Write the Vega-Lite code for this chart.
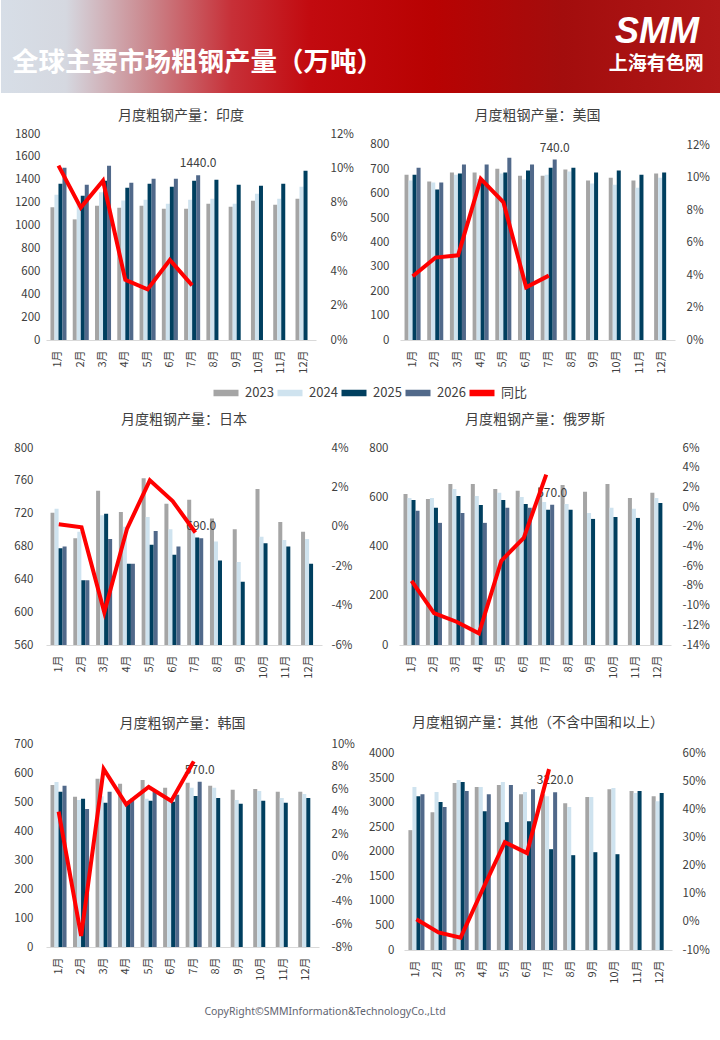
{
  "$schema": "https://vega.github.io/schema/vega-lite/v6.json",
  "background": "white",
  "padding": 0,
  "autosize": {"type": "pad"},
  "title": {
    "text": "CopyRight©SMMInformation&TechnologyCo.,Ltd",
    "orient": "bottom", "anchor": "middle", "dx": -36, "offset": 17,
    "fontSize": 10.5, "font": "Noto Sans", "fontWeight": "normal", "color": "#5f6470"
  },
  "datasets": {
    "india": [
      {"m":"1月","yr":"2023","v":1160},{"m":"1月","yr":"2024","v":1270},{"m":"1月","yr":"2025","v":1365},{"m":"1月","yr":"2026","v":1505},
      {"m":"2月","yr":"2023","v":1054},{"m":"2月","yr":"2024","v":1190},{"m":"2月","yr":"2025","v":1261},{"m":"2月","yr":"2026","v":1357},
      {"m":"3月","yr":"2023","v":1173},{"m":"3月","yr":"2024","v":1290},{"m":"3月","yr":"2025","v":1392},{"m":"3月","yr":"2026","v":1523},
      {"m":"4月","yr":"2023","v":1156},{"m":"4月","yr":"2024","v":1220},{"m":"4月","yr":"2025","v":1330},{"m":"4月","yr":"2026","v":1374},
      {"m":"5月","yr":"2023","v":1173},{"m":"5月","yr":"2024","v":1226},{"m":"5月","yr":"2025","v":1365},{"m":"5月","yr":"2026","v":1409},
      {"m":"6月","yr":"2023","v":1147},{"m":"6月","yr":"2024","v":1191},{"m":"6月","yr":"2025","v":1339},{"m":"6月","yr":"2026","v":1409},
      {"m":"7月","yr":"2023","v":1147},{"m":"7月","yr":"2024","v":1226},{"m":"7月","yr":"2025","v":1392},{"m":"7月","yr":"2026","v":1440},
      {"m":"8月","yr":"2023","v":1191},{"m":"8月","yr":"2024","v":1234},{"m":"8月","yr":"2025","v":1400},
      {"m":"9月","yr":"2023","v":1165},{"m":"9月","yr":"2024","v":1191},{"m":"9月","yr":"2025","v":1357},
      {"m":"10月","yr":"2023","v":1217},{"m":"10月","yr":"2024","v":1278},{"m":"10月","yr":"2025","v":1348},
      {"m":"11月","yr":"2023","v":1182},{"m":"11月","yr":"2024","v":1234},{"m":"11月","yr":"2025","v":1365},
      {"m":"12月","yr":"2023","v":1234},{"m":"12月","yr":"2024","v":1339},{"m":"12月","yr":"2025","v":1479},
      {"m":"1月","yoy":0.1016},{"m":"2月","yoy":0.0771},{"m":"3月","yoy":0.0928},{"m":"4月","yoy":0.035},
      {"m":"5月","yoy":0.0295},{"m":"6月","yoy":0.0466},{"m":"7月","yoy":0.0318}
    ],
    "us": [
      {"m":"1月","yr":"2023","v":678},{"m":"1月","yr":"2024","v":654},{"m":"1月","yr":"2025","v":678},{"m":"1月","yr":"2026","v":707},
      {"m":"2月","yr":"2023","v":650},{"m":"2月","yr":"2024","v":646},{"m":"2月","yr":"2025","v":617},{"m":"2月","yr":"2026","v":646},
      {"m":"3月","yr":"2023","v":687},{"m":"3月","yr":"2024","v":678},{"m":"3月","yr":"2025","v":683},{"m":"3月","yr":"2026","v":720},
      {"m":"4月","yr":"2023","v":687},{"m":"4月","yr":"2024","v":660},{"m":"4月","yr":"2025","v":655},{"m":"4月","yr":"2026","v":720},
      {"m":"5月","yr":"2023","v":703},{"m":"5月","yr":"2024","v":683},{"m":"5月","yr":"2025","v":687},{"m":"5月","yr":"2026","v":748},
      {"m":"6月","yr":"2023","v":674},{"m":"6月","yr":"2024","v":658},{"m":"6月","yr":"2025","v":695},{"m":"6月","yr":"2026","v":720},
      {"m":"7月","yr":"2023","v":674},{"m":"7月","yr":"2024","v":678},{"m":"7月","yr":"2025","v":707},{"m":"7月","yr":"2026","v":740},
      {"m":"8月","yr":"2023","v":699},{"m":"8月","yr":"2024","v":691},{"m":"8月","yr":"2025","v":707},
      {"m":"9月","yr":"2023","v":654},{"m":"9月","yr":"2024","v":642},{"m":"9月","yr":"2025","v":687},
      {"m":"10月","yr":"2023","v":666},{"m":"10月","yr":"2024","v":637},{"m":"10月","yr":"2025","v":695},
      {"m":"11月","yr":"2023","v":654},{"m":"11月","yr":"2024","v":625},{"m":"11月","yr":"2025","v":678},
      {"m":"12月","yr":"2023","v":683},{"m":"12月","yr":"2024","v":666},{"m":"12月","yr":"2025","v":687},
      {"m":"1月","yoy":0.0392},{"m":"2月","yoy":0.0507},{"m":"3月","yoy":0.0521},{"m":"4月","yoy":0.0991},
      {"m":"5月","yoy":0.0847},{"m":"6月","yoy":0.0324},{"m":"7月","yoy":0.0396}
    ],
    "japan": [
      {"m":"1月","yr":"2023","v":721},{"m":"1月","yr":"2024","v":726},{"m":"1月","yr":"2025","v":678},{"m":"1月","yr":"2026","v":680},
      {"m":"2月","yr":"2023","v":690},{"m":"2月","yr":"2024","v":698},{"m":"2月","yr":"2025","v":639},{"m":"2月","yr":"2026","v":639},
      {"m":"3月","yr":"2023","v":748},{"m":"3月","yr":"2024","v":718},{"m":"3月","yr":"2025","v":720},{"m":"3月","yr":"2026","v":689},
      {"m":"4月","yr":"2023","v":722},{"m":"4月","yr":"2024","v":704},{"m":"4月","yr":"2025","v":659},{"m":"4月","yr":"2026","v":659},
      {"m":"5月","yr":"2023","v":763},{"m":"5月","yr":"2024","v":716},{"m":"5月","yr":"2025","v":682},{"m":"5月","yr":"2026","v":699},
      {"m":"6月","yr":"2023","v":732},{"m":"6月","yr":"2024","v":701},{"m":"6月","yr":"2025","v":670},{"m":"6月","yr":"2026","v":680},
      {"m":"7月","yr":"2023","v":737},{"m":"7月","yr":"2024","v":700},{"m":"7月","yr":"2025","v":691},{"m":"7月","yr":"2026","v":690},
      {"m":"8月","yr":"2023","v":714},{"m":"8月","yr":"2024","v":686},{"m":"8月","yr":"2025","v":663},
      {"m":"9月","yr":"2023","v":701},{"m":"9月","yr":"2024","v":661},{"m":"9月","yr":"2025","v":637},
      {"m":"10月","yr":"2023","v":750},{"m":"10月","yr":"2024","v":692},{"m":"10月","yr":"2025","v":684},
      {"m":"11月","yr":"2023","v":710},{"m":"11月","yr":"2024","v":688},{"m":"11月","yr":"2025","v":680},
      {"m":"12月","yr":"2023","v":698},{"m":"12月","yr":"2024","v":689},{"m":"12月","yr":"2025","v":659},
      {"m":"1月","yoy":0.0013},{"m":"2月","yoy":-0.0002},{"m":"3月","yoy":-0.0434},{"m":"4月","yoy":-0.0009},
      {"m":"5月","yoy":0.0236},{"m":"6月","yoy":0.0131},{"m":"7月","yoy":-0.0029}
    ],
    "russia": [
      {"m":"1月","yr":"2023","v":613},{"m":"1月","yr":"2024","v":597},{"m":"1月","yr":"2025","v":589},{"m":"1月","yr":"2026","v":545},
      {"m":"2月","yr":"2023","v":593},{"m":"2月","yr":"2024","v":597},{"m":"2月","yr":"2025","v":557},{"m":"2月","yr":"2026","v":496},
      {"m":"3月","yr":"2023","v":654},{"m":"3月","yr":"2024","v":634},{"m":"3月","yr":"2025","v":605},{"m":"3月","yr":"2026","v":536},
      {"m":"4月","yr":"2023","v":654},{"m":"4月","yr":"2024","v":605},{"m":"4月","yr":"2025","v":569},{"m":"4月","yr":"2026","v":496},
      {"m":"5月","yr":"2023","v":634},{"m":"5月","yr":"2024","v":618},{"m":"5月","yr":"2025","v":589},{"m":"5月","yr":"2026","v":557},
      {"m":"6月","yr":"2023","v":626},{"m":"6月","yr":"2024","v":601},{"m":"6月","yr":"2025","v":573},{"m":"6月","yr":"2026","v":557},
      {"m":"7月","yr":"2023","v":642},{"m":"7月","yr":"2024","v":581},{"m":"7月","yr":"2025","v":549},{"m":"7月","yr":"2026","v":570},
      {"m":"8月","yr":"2023","v":650},{"m":"8月","yr":"2024","v":573},{"m":"8月","yr":"2025","v":549},
      {"m":"9月","yr":"2023","v":622},{"m":"9月","yr":"2024","v":536},{"m":"9月","yr":"2025","v":512},
      {"m":"10月","yr":"2023","v":654},{"m":"10月","yr":"2024","v":557},{"m":"10月","yr":"2025","v":520},
      {"m":"11月","yr":"2023","v":597},{"m":"11月","yr":"2024","v":553},{"m":"11月","yr":"2025","v":516},
      {"m":"12月","yr":"2023","v":618},{"m":"12月","yr":"2024","v":597},{"m":"12月","yr":"2025","v":577},
      {"m":"1月","yoy":-0.0748},{"m":"2月","yoy":-0.1076},{"m":"3月","yoy":-0.1164},{"m":"4月","yoy":-0.1282},
      {"m":"5月","yoy":-0.0545},{"m":"6月","yoy":-0.0312},{"m":"7月","yoy":0.0329}
    ],
    "korea": [
      {"m":"1月","yr":"2023","v":559},{"m":"1月","yr":"2024","v":569},{"m":"1月","yr":"2025","v":535},{"m":"1月","yr":"2026","v":556},
      {"m":"2月","yr":"2023","v":518},{"m":"2月","yr":"2024","v":507},{"m":"2月","yr":"2025","v":511},{"m":"2月","yr":"2026","v":476},
      {"m":"3月","yr":"2023","v":580},{"m":"3月","yr":"2024","v":520},{"m":"3月","yr":"2025","v":497},{"m":"3月","yr":"2026","v":535},
      {"m":"4月","yr":"2023","v":563},{"m":"4月","yr":"2024","v":500},{"m":"4月","yr":"2025","v":494},{"m":"4月","yr":"2026","v":511},
      {"m":"5月","yr":"2023","v":576},{"m":"5月","yr":"2024","v":511},{"m":"5月","yr":"2025","v":504},{"m":"5月","yr":"2026","v":535},
      {"m":"6月","yr":"2023","v":549},{"m":"6月","yr":"2024","v":510},{"m":"6月","yr":"2025","v":501},{"m":"6月","yr":"2026","v":525},
      {"m":"7月","yr":"2023","v":566},{"m":"7月","yr":"2024","v":549},{"m":"7月","yr":"2025","v":521},{"m":"7月","yr":"2026","v":570},
      {"m":"8月","yr":"2023","v":556},{"m":"8月","yr":"2024","v":549},{"m":"8月","yr":"2025","v":514},
      {"m":"9月","yr":"2023","v":542},{"m":"9月","yr":"2024","v":507},{"m":"9月","yr":"2025","v":494},
      {"m":"10月","yr":"2023","v":545},{"m":"10月","yr":"2024","v":538},{"m":"10月","yr":"2025","v":504},
      {"m":"11月","yr":"2023","v":535},{"m":"11月","yr":"2024","v":514},{"m":"11月","yr":"2025","v":497},
      {"m":"12月","yr":"2023","v":535},{"m":"12月","yr":"2024","v":528},{"m":"12月","yr":"2025","v":514},
      {"m":"1月","yoy":0.04},{"m":"2月","yoy":-0.0702},{"m":"3月","yoy":0.0778},{"m":"4月","yoy":0.0465},
      {"m":"5月","yoy":0.0619},{"m":"6月","yoy":0.0495},{"m":"7月","yoy":0.0846}
    ],
    "others": [
      {"m":"1月","yr":"2023","v":2446},{"m":"1月","yr":"2024","v":3324},{"m":"1月","yr":"2025","v":3140},{"m":"1月","yr":"2026","v":3181},
      {"m":"2月","yr":"2023","v":2813},{"m":"2月","yr":"2024","v":3222},{"m":"2月","yr":"2025","v":3018},{"m":"2月","yr":"2026","v":2916},
      {"m":"3月","yr":"2023","v":3406},{"m":"3月","yr":"2024","v":3467},{"m":"3月","yr":"2025","v":3426},{"m":"3月","yr":"2026","v":3243},
      {"m":"4月","yr":"2023","v":3324},{"m":"4月","yr":"2024","v":3324},{"m":"4月","yr":"2025","v":2834},{"m":"4月","yr":"2026","v":3181},
      {"m":"5月","yr":"2023","v":3365},{"m":"5月","yr":"2024","v":3426},{"m":"5月","yr":"2025","v":2609},{"m":"5月","yr":"2026","v":3365},
      {"m":"6月","yr":"2023","v":3181},{"m":"6月","yr":"2024","v":3222},{"m":"6月","yr":"2025","v":2629},{"m":"6月","yr":"2026","v":3283},
      {"m":"7月","yr":"2023","v":3180},{"m":"7月","yr":"2024","v":3140},{"m":"7月","yr":"2025","v":2057},{"m":"7月","yr":"2026","v":3220},
      {"m":"8月","yr":"2023","v":2997},{"m":"8月","yr":"2024","v":2916},{"m":"8月","yr":"2025","v":1935},
      {"m":"9月","yr":"2023","v":3120},{"m":"9月","yr":"2024","v":3120},{"m":"9月","yr":"2025","v":1996},
      {"m":"10月","yr":"2023","v":3283},{"m":"10月","yr":"2024","v":3304},{"m":"10月","yr":"2025","v":1955},
      {"m":"11月","yr":"2023","v":3243},{"m":"11月","yr":"2024","v":3202},{"m":"11月","yr":"2025","v":3243},
      {"m":"12月","yr":"2023","v":3140},{"m":"12月","yr":"2024","v":3038},{"m":"12月","yr":"2025","v":3202},
      {"m":"1月","yoy":0.0095},{"m":"2月","yoy":-0.037},{"m":"3月","yoy":-0.056},{"m":"4月","yoy":0.117},
      {"m":"5月","yoy":0.285},{"m":"6月","yoy":0.246},{"m":"7月","yoy":0.546}
    ]
  },
  "spacing": 16,
  "resolve": {"scale": {"color": "independent"}, "legend": {"color": "independent"}},
  "vconcat": [
    {
      "width": 675,
      "height": 93,
      "data": {"values": [{"k": "banner"}]},
      "layer": [
        {
          "mark": {
            "type": "rect",
            "color": {
              "gradient": "linear", "x1": 0, "x2": 1, "y1": 0, "y2": 0,
              "stops": [
                {"offset": 0, "color": "#d7dee7"},
                {"offset": 0.09, "color": "#d5d8e0"},
                {"offset": 0.2, "color": "#cb8a90"},
                {"offset": 0.32, "color": "#c73038"},
                {"offset": 0.43, "color": "#c20a0f"},
                {"offset": 0.6, "color": "#b80202"},
                {"offset": 0.78, "color": "#a30d0d"},
                {"offset": 1, "color": "#b01818"}
              ]
            }
          },
          "encoding": {
            "x": {"datum": -0.0667, "type": "quantitative", "scale": {"domain": [0, 1], "nice": false, "zero": false}, "axis": null},
            "x2": {"datum": 1}
          }
        },
        {
          "mark": {"type": "text", "text": "全球主要市场粗钢产量（万吨）", "align": "left", "baseline": "middle",
                   "fontSize": 26.5, "fontWeight": "bold", "color": "white"},
          "encoding": {
            "x": {"datum": -0.0504, "type": "quantitative"},
            "y": {"datum": 0.32, "type": "quantitative", "scale": {"domain": [0, 1], "nice": false}, "axis": null}
          }
        },
        {
          "mark": {"type": "text", "text": "SMM", "align": "center", "baseline": "middle",
                   "font": "Liberation Sans", "fontSize": 36, "fontWeight": "bold", "fontStyle": "italic", "color": "white"},
          "encoding": {
            "x": {"datum": 0.905, "type": "quantitative"},
            "y": {"datum": 0.66, "type": "quantitative"}
          }
        },
        {
          "mark": {"type": "text", "text": "上海有色网", "align": "center", "baseline": "middle",
                   "fontSize": 19, "fontWeight": "bold", "color": "white"},
          "encoding": {
            "x": {"datum": 0.904, "type": "quantitative"},
            "y": {"datum": 0.31, "type": "quantitative"}
          }
        }
      ]
    },
    {
      "spacing": 0,
      "resolve": {"scale": {"color": "independent"}, "legend": {"color": "independent"}},
      "vconcat": [
        {
          "spacing": 0,
          "hconcat": [
            {
              "width": 270, "height": 206,
              "title": {"text": "月度粗钢产量：印度", "offset": 5},
              "data": {"name": "india"},
              "encoding": {
                "x": {"field": "m", "type": "nominal", "title": null,
                      "scale": {"domain": ["1月","2月","3月","4月","5月","6月","7月","8月","9月","10月","11月","12月"], "paddingInner": 0.28, "paddingOuter": 0.2},
                      "axis": {"labelAngle": -90, "domain": true, "domainColor": "#D9D9D9", "labelPadding": 10, "labelFontSize": 11, "labelOverlap": false, "minExtent": 37, "maxExtent": 37}}
              },
              "layer": [
                {
                  "encoding": {
                    "xOffset": {"field": "yr", "type": "nominal", "scale": {"domain": ["2023","2024","2025","2026"], "paddingInner": 0, "paddingOuter": 0}},
                    "y": {"field": "v", "type": "quantitative", "title": null, "scale": {"domain": [0, 1800]},
                          "axis": {"orient": "left", "values": [0,200,400,600,800,1000,1200,1400,1600,1800], "format": "d", "labelOverlap": false, "labelPadding": 6, "minExtent": 45, "maxExtent": 45}}
                  },
                  "layer": [
                    {
                      "transform": [{"filter": "isValid(datum.v)"}],
                      "mark": {"type": "bar", "clip": true},
                      "encoding": {
                        "color": {"field": "yr", "type": "nominal", "legend": null,
                                  "scale": {"domain": ["2023","2024","2025","2026","同比"], "range": ["#A5A5A5","#CFE3EF","#003F5F","#51698A","#FF0000"]}}
                      }
                    },
                    {
                      "transform": [{"filter": "datum.yr == '2026' && datum.m == '7月'"}],
                      "mark": {"type": "text", "baseline": "bottom", "dy": -5, "fontSize": 12, "color": "#404040"},
                      "encoding": {"text": {"field": "v", "type": "quantitative", "format": ".1f"}}
                    }
                  ]
                },
                {
                  "transform": [{"filter": "isValid(datum.yoy)"}],
                  "mark": {"type": "line", "color": "#FF0000", "strokeWidth": 4},
                  "encoding": {
                    "y": {"field": "yoy", "type": "quantitative", "title": null, "scale": {"domain": [0, 0.12]},
                          "axis": {"orient": "right", "values": [0,0.02,0.04,0.06,0.08,0.1,0.12], "labelExpr": "round(datum.value*100) + '%'", "labelOverlap": false, "labelPadding": 14, "minExtent": 45, "maxExtent": 45}}
                  }
                }
              ],
              "resolve": {"scale": {"y": "independent"}}
            },
            {
              "width": 275, "height": 206,
              "title": {"text": "月度粗钢产量：美国", "offset": 11},
              "data": {"name": "us"},
              "encoding": {
                "x": {"field": "m", "type": "nominal", "title": null,
                      "scale": {"domain": ["1月","2月","3月","4月","5月","6月","7月","8月","9月","10月","11月","12月"], "paddingInner": 0.28, "paddingOuter": 0.2},
                      "axis": {"labelAngle": -90, "domain": true, "domainColor": "#D9D9D9", "labelPadding": 10, "labelFontSize": 11, "labelOverlap": false, "minExtent": 37, "maxExtent": 37}}
              },
              "layer": [
                {
                  "encoding": {
                    "xOffset": {"field": "yr", "type": "nominal", "scale": {"domain": ["2023","2024","2025","2026"], "paddingInner": 0, "paddingOuter": 0}},
                    "y": {"field": "v", "type": "quantitative", "title": null, "scale": {"domain": [0, 845.1], "nice": false},
                          "axis": {"orient": "left", "values": [0,100,200,300,400,500,600,700,800], "format": "d", "labelOverlap": false, "labelPadding": 11, "minExtent": 39, "maxExtent": 39}}
                  },
                  "layer": [
                    {
                      "transform": [{"filter": "isValid(datum.v)"}],
                      "mark": {"type": "bar", "clip": true},
                      "encoding": {
                        "color": {"field": "yr", "type": "nominal", "legend": null,
                                  "scale": {"domain": ["2023","2024","2025","2026","同比"], "range": ["#A5A5A5","#CFE3EF","#003F5F","#51698A","#FF0000"]}}
                      }
                    },
                    {
                      "transform": [{"filter": "datum.yr == '2026' && datum.m == '7月'"}],
                      "mark": {"type": "text", "baseline": "bottom", "dy": -5, "fontSize": 12, "color": "#404040"},
                      "encoding": {"text": {"field": "v", "type": "quantitative", "format": ".1f"}}
                    }
                  ]
                },
                {
                  "transform": [{"filter": "isValid(datum.yoy)"}],
                  "mark": {"type": "line", "color": "#FF0000", "strokeWidth": 4},
                  "encoding": {
                    "y": {"field": "yoy", "type": "quantitative", "title": null, "scale": {"domain": [0, 0.12677], "nice": false},
                          "axis": {"orient": "right", "values": [0,0.02,0.04,0.06,0.08,0.1,0.12], "labelExpr": "round(datum.value*100) + '%'", "labelOverlap": false, "labelPadding": 11, "minExtent": 40, "maxExtent": 40}}
                  }
                }
              ],
              "resolve": {"scale": {"y": "independent"}}
            }
          ]
        },
        {
          "width": 600,
          "height": 36,
          "data": {"values": [{"s": "2023"}, {"s": "2024"}, {"s": "2025"}, {"s": "2026"}, {"s": "同比"}]},
          "mark": {"type": "point", "opacity": 0},
          "encoding": {
            "color": {
              "field": "s", "type": "nominal",
              "scale": {"domain": ["2023","2024","2025","2026","同比"], "range": ["#A5A5A5","#CFE3EF","#003F5F","#51698A","#FF0000"]},
              "legend": {
                "orient": "none", "legendX": 164, "legendY": 0, "direction": "horizontal", "title": null,
                "symbolType": "stroke", "symbolSize": 625, "symbolStrokeWidth": 6.5, "symbolOpacity": 1,
                "labelFontSize": 13, "labelColor": "#404040", "labelOffset": 3, "columnPadding": -14,
                "encode": {"symbols": {"update": {"strokeWidth": {"signal": "datum.value === '同比' ? 3 : 6.5"}}}}
              }
            }
          }
        },
        {
          "spacing": 0,
          "hconcat": [
            {
              "width": 276, "height": 197,
              "title": {"text": "月度粗钢产量：日本", "offset": 15},
              "data": {"name": "japan"},
              "encoding": {
                "x": {"field": "m", "type": "nominal", "title": null,
                      "scale": {"domain": ["1月","2月","3月","4月","5月","6月","7月","8月","9月","10月","11月","12月"], "paddingInner": 0.28, "paddingOuter": 0.2},
                      "axis": {"labelAngle": -90, "domain": true, "domainColor": "#D9D9D9", "labelPadding": 10, "labelFontSize": 11, "labelOverlap": false, "minExtent": 71, "maxExtent": 71}}
              },
              "layer": [
                {
                  "encoding": {
                    "xOffset": {"field": "yr", "type": "nominal", "scale": {"domain": ["2023","2024","2025","2026"], "paddingInner": 0, "paddingOuter": 0}},
                    "y": {"field": "v", "type": "quantitative", "title": null, "scale": {"domain": [560, 800], "zero": false},
                          "axis": {"orient": "left", "values": [560,600,640,680,720,760,800], "format": "d", "labelOverlap": false, "labelPadding": 13, "minExtent": 45, "maxExtent": 45}}
                  },
                  "layer": [
                    {
                      "transform": [{"filter": "isValid(datum.v)"}],
                      "mark": {"type": "bar", "clip": true},
                      "encoding": {
                        "color": {"field": "yr", "type": "nominal", "legend": null,
                                  "scale": {"domain": ["2023","2024","2025","2026","同比"], "range": ["#A5A5A5","#CFE3EF","#003F5F","#51698A","#FF0000"]}}
                      }
                    },
                    {
                      "transform": [{"filter": "datum.yr == '2026' && datum.m == '7月'"}],
                      "mark": {"type": "text", "baseline": "bottom", "dy": -5, "fontSize": 12, "color": "#404040"},
                      "encoding": {"text": {"field": "v", "type": "quantitative", "format": ".1f"}}
                    }
                  ]
                },
                {
                  "transform": [{"filter": "isValid(datum.yoy)"}],
                  "mark": {"type": "line", "color": "#FF0000", "strokeWidth": 4},
                  "encoding": {
                    "y": {"field": "yoy", "type": "quantitative", "title": null, "scale": {"domain": [-0.06, 0.04]},
                          "axis": {"orient": "right", "values": [-0.06,-0.04,-0.02,0,0.02,0.04], "labelExpr": "round(datum.value*100) + '%'", "labelOverlap": false, "labelPadding": 9, "minExtent": 39, "maxExtent": 39}}
                  }
                }
              ],
              "resolve": {"scale": {"y": "independent"}}
            },
            {
              "width": 272, "height": 197,
              "title": {"text": "月度粗钢产量：俄罗斯", "offset": 15},
              "data": {"name": "russia"},
              "encoding": {
                "x": {"field": "m", "type": "nominal", "title": null,
                      "scale": {"domain": ["1月","2月","3月","4月","5月","6月","7月","8月","9月","10月","11月","12月"], "paddingInner": 0.28, "paddingOuter": 0.2},
                      "axis": {"labelAngle": -90, "domain": true, "domainColor": "#D9D9D9", "labelPadding": 10, "labelFontSize": 11, "labelOverlap": false, "minExtent": 71, "maxExtent": 71}}
              },
              "layer": [
                {
                  "encoding": {
                    "xOffset": {"field": "yr", "type": "nominal", "scale": {"domain": ["2023","2024","2025","2026"], "paddingInner": 0, "paddingOuter": 0}},
                    "y": {"field": "v", "type": "quantitative", "title": null, "scale": {"domain": [0, 800]},
                          "axis": {"orient": "left", "values": [0,200,400,600,800], "format": "d", "labelOverlap": false, "labelPadding": 11, "minExtent": 38, "maxExtent": 38}}
                  },
                  "layer": [
                    {
                      "transform": [{"filter": "isValid(datum.v)"}],
                      "mark": {"type": "bar", "clip": true},
                      "encoding": {
                        "color": {"field": "yr", "type": "nominal", "legend": null,
                                  "scale": {"domain": ["2023","2024","2025","2026","同比"], "range": ["#A5A5A5","#CFE3EF","#003F5F","#51698A","#FF0000"]}}
                      }
                    },
                    {
                      "transform": [{"filter": "datum.yr == '2026' && datum.m == '7月'"}],
                      "mark": {"type": "text", "baseline": "bottom", "dy": -5, "fontSize": 12, "color": "#404040"},
                      "encoding": {"text": {"field": "v", "type": "quantitative", "format": ".1f"}}
                    }
                  ]
                },
                {
                  "transform": [{"filter": "isValid(datum.yoy)"}],
                  "mark": {"type": "line", "color": "#FF0000", "strokeWidth": 4},
                  "encoding": {
                    "y": {"field": "yoy", "type": "quantitative", "title": null, "scale": {"domain": [-0.14, 0.06]},
                          "axis": {"orient": "right", "values": [-0.14,-0.12,-0.1,-0.08,-0.06,-0.04,-0.02,0,0.02,0.04,0.06], "labelExpr": "round(datum.value*100) + '%'", "labelOverlap": false, "labelPadding": 11, "minExtent": 45, "maxExtent": 45}}
                  }
                }
              ],
              "resolve": {"scale": {"y": "independent"}}
            }
          ]
        },
        {
          "spacing": 0,
          "hconcat": [
            {
              "width": 273, "height": 203,
              "title": {"text": "月度粗钢产量：韩国", "offset": 7},
              "data": {"name": "korea"},
              "encoding": {
                "x": {"field": "m", "type": "nominal", "title": null,
                      "scale": {"domain": ["1月","2月","3月","4月","5月","6月","7月","8月","9月","10月","11月","12月"], "paddingInner": 0.28, "paddingOuter": 0.2},
                      "axis": {"labelAngle": -90, "domain": true, "domainColor": "#D9D9D9", "labelPadding": 10, "labelFontSize": 11, "labelOverlap": false, "minExtent": 40, "maxExtent": 40}}
              },
              "layer": [
                {
                  "encoding": {
                    "xOffset": {"field": "yr", "type": "nominal", "scale": {"domain": ["2023","2024","2025","2026"], "paddingInner": 0, "paddingOuter": 0}},
                    "y": {"field": "v", "type": "quantitative", "title": null, "scale": {"domain": [0, 700]},
                          "axis": {"orient": "left", "values": [0,100,200,300,400,500,600,700], "format": "d", "labelOverlap": false, "labelPadding": 13, "minExtent": 45, "maxExtent": 45}}
                  },
                  "layer": [
                    {
                      "transform": [{"filter": "isValid(datum.v)"}],
                      "mark": {"type": "bar", "clip": true},
                      "encoding": {
                        "color": {"field": "yr", "type": "nominal", "legend": null,
                                  "scale": {"domain": ["2023","2024","2025","2026","同比"], "range": ["#A5A5A5","#CFE3EF","#003F5F","#51698A","#FF0000"]}}
                      }
                    },
                    {
                      "transform": [{"filter": "datum.yr == '2026' && datum.m == '7月'"}],
                      "mark": {"type": "text", "baseline": "bottom", "dy": -5, "fontSize": 12, "color": "#404040"},
                      "encoding": {"text": {"field": "v", "type": "quantitative", "format": ".1f"}}
                    }
                  ]
                },
                {
                  "transform": [{"filter": "isValid(datum.yoy)"}],
                  "mark": {"type": "line", "color": "#FF0000", "strokeWidth": 4},
                  "encoding": {
                    "y": {"field": "yoy", "type": "quantitative", "title": null, "scale": {"domain": [-0.08, 0.1]},
                          "axis": {"orient": "right", "values": [-0.08,-0.06,-0.04,-0.02,0,0.02,0.04,0.06,0.08,0.1], "labelExpr": "round(datum.value*100) + '%'", "labelOverlap": false, "labelPadding": 12, "minExtent": 42, "maxExtent": 42}}
                  }
                }
              ],
              "resolve": {"scale": {"y": "independent"}}
            },
            {
              "width": 268, "height": 206,
              "title": {"text": "月度粗钢产量：其他（不含中国和以上）", "offset": 14},
              "data": {"name": "others"},
              "encoding": {
                "x": {"field": "m", "type": "nominal", "title": null,
                      "scale": {"domain": ["1月","2月","3月","4月","5月","6月","7月","8月","9月","10月","11月","12月"], "paddingInner": 0.28, "paddingOuter": 0.2},
                      "axis": {"labelAngle": -90, "domain": true, "domainColor": "#D9D9D9", "labelPadding": 10, "labelFontSize": 11, "labelOverlap": false, "minExtent": 40, "maxExtent": 40}}
              },
              "layer": [
                {
                  "encoding": {
                    "xOffset": {"field": "yr", "type": "nominal", "scale": {"domain": ["2023","2024","2025","2026"], "paddingInner": 0, "paddingOuter": 0}},
                    "y": {"field": "v", "type": "quantitative", "title": null, "scale": {"domain": [0, 4204], "nice": false},
                          "axis": {"orient": "left", "values": [0,500,1000,1500,2000,2500,3000,3500,4000], "format": "d", "labelOverlap": false, "labelPadding": 10, "minExtent": 43, "maxExtent": 43}}
                  },
                  "layer": [
                    {
                      "transform": [{"filter": "isValid(datum.v)"}],
                      "mark": {"type": "bar", "clip": true},
                      "encoding": {
                        "color": {"field": "yr", "type": "nominal", "legend": null,
                                  "scale": {"domain": ["2023","2024","2025","2026","同比"], "range": ["#A5A5A5","#CFE3EF","#003F5F","#51698A","#FF0000"]}}
                      }
                    },
                    {
                      "transform": [{"filter": "datum.yr == '2026' && datum.m == '7月'"}],
                      "mark": {"type": "text", "baseline": "bottom", "dy": -5, "fontSize": 12, "color": "#404040"},
                      "encoding": {"text": {"field": "v", "type": "quantitative", "format": ".1f"}}
                    }
                  ]
                },
                {
                  "transform": [{"filter": "isValid(datum.yoy)"}],
                  "mark": {"type": "line", "color": "#FF0000", "strokeWidth": 4},
                  "encoding": {
                    "y": {"field": "yoy", "type": "quantitative", "title": null, "scale": {"domain": [-0.1, 0.6357], "nice": false},
                          "axis": {"orient": "right", "values": [-0.1,0,0.1,0.2,0.3,0.4,0.5,0.6], "labelExpr": "round(datum.value*100) + '%'", "labelOverlap": false, "labelPadding": 10, "minExtent": 45, "maxExtent": 45}}
                  }
                }
              ],
              "resolve": {"scale": {"y": "independent"}}
            }
          ]
        }
      ]
    }
  ],
  "config": {
    "font": "Noto Sans CJK SC",
    "view": {"stroke": null},
    "axis": {"grid": false, "ticks": false, "domain": false, "labelColor": "#404040", "labelFontSize": 11.5},
    "title": {"fontSize": 14, "fontWeight": "normal", "color": "#404040"},
    "concat": {"spacing": 0}
  }
}
